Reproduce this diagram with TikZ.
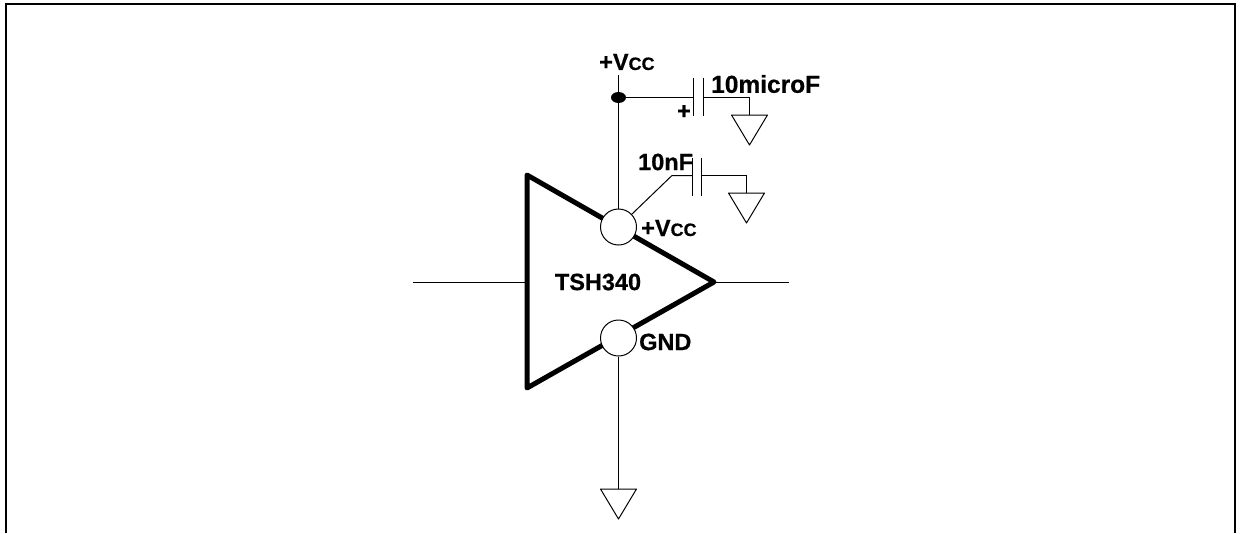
\documentclass[tikz,border=0pt]{standalone}
\usepackage{fontspec}
\setmainfont{Liberation Sans}[BoldFeatures={FakeBold=0.6}]
\usetikzlibrary{shapes.geometric}
\newcommand{\Vcc}{+V{\fontsize{18}{18}\selectfont CC}}

\begin{document}
\begin{tikzpicture}[x=1pt,y=-1pt]
\tikzset{wire/.style={line width=1pt}}
\tikzset{pin/.style={circle,draw,fill=white,line width=1pt,minimum size=36pt,inner sep=0pt}}
\tikzset{lbl/.style={inner sep=0pt,font=\fontsize{23.5}{23.5}\selectfont\bfseries}}
\useasboundingbox (0,0) rectangle (1241,533);
% frame, open at the bottom
\draw[line width=2pt] (6,533) -- (6,4) -- (1235,4) -- (1235,533);
% amplifier
\coordinate (ampTop) at (527,175);
\coordinate (ampBot) at (527,388);
\coordinate (ampTip) at (714,282);
\draw[line width=5pt,line join=round] (ampTop) -- (ampTip) -- (ampBot) -- cycle;
\node[pin] (pinVcc) at (618.5,227) {};
\node[pin] (pinGnd) at (618.5,338) {};
\node[lbl] (ampName) at (598,282) {TSH340};
\node[lbl,anchor=west] (lblVcc) at (641,228) {\Vcc};
\node[lbl,anchor=west] (lblGnd) at (639,342) {GND};
% input and output
\coordinate (inEnd) at (413,282.5);
\coordinate (inPin) at (525,282.5);
\coordinate (outEnd) at (789,282.5);
\coordinate (outPin) at (714,282.5);
\draw[wire] (inEnd) -- (inPin);
\draw[wire] (outPin) -- (outEnd);
% supply rail
\coordinate (railTop) at (618.5,75);
\node[ellipse,fill=black,minimum width=15pt,minimum height=11pt,inner sep=0pt] (railDot) at (618.5,97.5) {};
\node[lbl,anchor=west] (lblRail) at (599,62) {\Vcc};
\draw[wire] (railTop) -- (pinVcc);
% grounds
\coordinate (gndA) at (749.5,115);
\coordinate (gndB) at (746.5,193);
\coordinate (gndC) at (618.5,489);
\foreach \g in {gndA,gndB,gndC}
  \draw[wire,line join=round] (\g) ++(-18,0) -- ++(36,0) -- ++(-18,30) -- cycle;
% 10microF
\coordinate (capAl) at (693.5,97.5);
\coordinate (capAr) at (703.5,97.5);
\draw[wire] (railDot) -- (capAl);
\draw[wire] (capAl) ++(0,-20) -- ++(0,38);
\draw[wire] (capAr) ++(0,-20) -- ++(0,38);
\draw[wire] (capAr) -| (gndA);
\node[lbl,anchor=west,font=\fontsize{24.5}{24.5}\selectfont\bfseries] (lblCapA) at (711,84) {10microF};
\node[lbl] (lblPlus) at (684,112) {+};
% 10nF
\coordinate (capBl) at (692.5,175.5);
\coordinate (capBr) at (701.5,175.5);
\coordinate (capBend) at (672,175.5);
\draw[wire] (pinVcc) -- (capBend) -- (capBl);
\draw[wire] (capBl) ++(0,-18) -- ++(0,38);
\draw[wire] (capBr) ++(0,-18) -- ++(0,38);
\draw[wire] (capBr) -| (gndB);
\node[lbl,anchor=west] (lblCapB) at (638,162) {10nF};
% ground lead
\draw[wire] (pinGnd) -- (gndC);
\end{tikzpicture}
\end{document}
